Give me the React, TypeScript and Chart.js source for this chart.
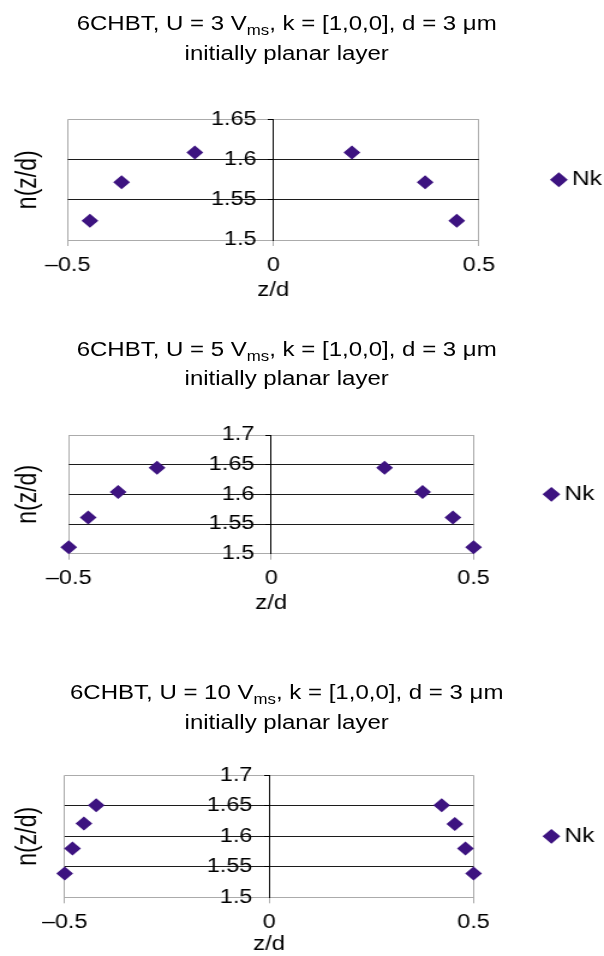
import React, { useEffect, useRef } from 'react';
import { Chart, registerables } from 'chart.js';

Chart.register(...registerables);

// ---------- data ----------
const voltages = ['3', '5', '10'];
const seriesName = 'Nk';

const z1 = [-0.446, -0.369, -0.191, 0.191, 0.369, 0.446];
const n1 = [1.524, 1.572, 1.609, 1.609, 1.572, 1.524];

const z2 = [-0.5, -0.452, -0.378, -0.282, 0.28, 0.374, 0.449, 0.5];
const n2 = [1.511, 1.561, 1.604, 1.645, 1.645, 1.604, 1.561, 1.511];

const z3 = [-0.5, -0.481, -0.453, -0.423, 0.422, 0.454, 0.48, 0.5];
const n3 = [1.539, 1.58, 1.621, 1.651, 1.651, 1.62, 1.58, 1.539];

const xTickLabels = ['\u20130.5', '0', '0.5'];
const yTickLabels1 = ['1.5', '1.55', '1.6', '1.65'];
const yTickLabels23 = ['1.5', '1.55', '1.6', '1.65', '1.7'];
const yRanges = [
  [1.5, 1.65],
  [1.5, 1.7],
  [1.5, 1.7],
];

// ---------- layout (internal, pre-stretch units) ----------
const FONT = '"Liberation Sans", Arial, Helvetica, sans-serif';
const INNER_W = 503;
const STRETCH = 604 / INNER_W;
const PURPLE = '#3d1380';
const FRAME = '#ababab';
const GRID = '#1c1c1c';

type Layout = {
  titleTop: number;
  canvasTop: number;
  canvasH: number;
  padTop: number;
  axisH: number;
  xTitlePadBottom: number;
  yTitlePadTop: number;
  yTitlePadBottom: number;
  legendPad: number;
  legendMaxW: number;
  padRight: number;
};

const layouts: Layout[] = [
  { titleTop: 10, canvasTop: 70, canvasH: 240, padTop: 49.5, axisH: 70, xTitlePadBottom: 8, yTitlePadTop: 9.5, yTitlePadBottom: 19.3, legendPad: 66, legendMaxW: 103, padRight: 1.1 },
  { titleTop: 335.5, canvasTop: 390, canvasH: 234, padTop: 45, axisH: 70.3, xTitlePadBottom: 9, yTitlePadTop: 9.5, yTitlePadBottom: 20.15, legendPad: 64.3, legendMaxW: 101.7, padRight: 6.9 },
  { titleTop: 679, canvasTop: 730, canvasH: 226, padTop: 45.3, axisH: 58.7, xTitlePadBottom: 0, yTitlePadTop: 9.5, yTitlePadBottom: 16.8, legendPad: 64.3, legendMaxW: 101.7, padRight: 6.9 },
];

const zs = [z1, z2, z3];
const ns = [n1, n2, n3];
const yLabelSets = [yTickLabels1, yTickLabels23, yTickLabels23];

function ChartBlock({ idx }: { idx: number }) {
  const ref = useRef<HTMLCanvasElement>(null);
  const L = layouts[idx];
  useEffect(() => {
    const [ymin, ymax] = yRanges[idx];
    const yLabels = yLabelSets[idx];
    const z = zs[idx];
    const n = ns[idx];
    const isEdge = (v: number) => Math.abs(v - ymin) < 1e-6 || Math.abs(v - ymax) < 1e-6;
    const chart = new Chart(ref.current as HTMLCanvasElement, {
      type: 'scatter',
      data: {
        datasets: [
          {
            label: seriesName,
            data: z.map((x, i) => ({ x, y: n[i] })),
            xAxisID: 'x',
            yAxisID: 'y',
            pointStyle: 'rectRot',
            pointRadius: 7,
            pointHoverRadius: 7,
            pointBorderWidth: 0,
            borderWidth: 0,
            backgroundColor: PURPLE,
            borderColor: PURPLE,
            clip: false,
          } as any,
        ],
      },
      options: {
        animation: false,
        responsive: false,
        events: [],
        layout: { padding: { top: L.padTop, left: 0, right: L.padRight, bottom: 0 } },
        plugins: {
          tooltip: { enabled: false },
          title: { display: false },
          legend: {
            display: true,
            position: 'right',
            fullSize: false,
            maxWidth: L.legendMaxW,
            labels: {
              usePointStyle: true,
              pointStyle: 'rectRot',
              boxWidth: 1,
              boxHeight: 10.5,
              padding: L.legendPad,
              color: '#000',
              font: { family: FONT, size: 20.5 },
            },
          } as any,
        },
        scales: {
          x: {
            type: 'linear',
            position: 'bottom',
            min: -0.5,
            max: 0.5,
            afterFit: (s: any) => {
              s.height = L.axisH;
            },
            ticks: {
              stepSize: 0.5,
              autoSkip: false,
              maxRotation: 0,
              padding: 7.5,
              color: '#000',
              font: { family: FONT, size: 19.5 },
              callback: (_v: any, i: number) => xTickLabels[i],
            },
            grid: {
              color: (c: any) => (c.tick && Math.abs(c.tick.value) < 1e-9 ? 'rgba(0,0,0,0)' : FRAME),
              tickColor: FRAME,
              tickLength: 6,
              lineWidth: 1,
            },
            border: { display: true, color: FRAME, width: 1 },
            title: {
              display: true,
              text: 'z/d',
              color: '#000',
              font: { family: FONT, size: 20 },
              padding: { top: 0, bottom: L.xTitlePadBottom },
            },
          },
          y: {
            type: 'linear',
            position: 'center',
            min: ymin,
            max: ymax,
            ticks: {
              stepSize: 0.05,
              autoSkip: false,
              padding: 10,
              color: '#000',
              font: { family: FONT, size: 19.5 },
              callback: (_v: any, i: number) => yLabels[i],
            },
            grid: {
              color: (c: any) => (c.tick && isEdge(c.tick.value) ? FRAME : GRID),
              tickColor: '#000',
              tickLength: 4,
              lineWidth: 1,
            },
            border: { display: true, color: '#000', width: 1 },
          },
          yt: {
            type: 'linear',
            position: 'left',
            min: ymin,
            max: ymax,
            ticks: { display: false },
            grid: { display: false, drawTicks: false, drawOnChartArea: false },
            border: { display: false },
            title: {
              display: true,
              text: 'n(z/d)',
              color: '#000',
              font: { family: FONT, size: 23 },
              padding: { top: L.yTitlePadTop, bottom: L.yTitlePadBottom },
            },
          },
        },
      } as any,
    });
    return () => chart.destroy();
  }, [idx]);

  return (
    <>
      <div
        style={{
          position: 'absolute',
          left: 0,
          top: L.titleTop,
          width: 477.5,
          textAlign: 'center',
          fontFamily: FONT,
          fontSize: 20,
          lineHeight: '27.6px',
          color: '#000',
          whiteSpace: 'nowrap',
        }}
      >
        6CHBT, U = {voltages[idx]} V
        <span style={{ fontSize: 14, position: 'relative', top: 5 }}>ms</span>, k = [1,0,0], d = 3 μm
        <br />
        initially planar layer
      </div>
      <div style={{ position: 'absolute', left: 0, top: L.canvasTop, width: INNER_W, height: L.canvasH }}>
        <canvas ref={ref} width={INNER_W} height={L.canvasH} style={{ display: 'block' }} />
      </div>
    </>
  );
}

export default function App() {
  return (
    <div
      style={{
        position: 'absolute',
        left: 0,
        top: 0,
        width: 604,
        height: 956,
        overflow: 'hidden',
        background: '#fff',
      }}
    >
      <div
        style={{
          position: 'absolute',
          left: 0,
          top: 0,
          width: INNER_W,
          height: 956,
          transform: `scaleX(${STRETCH})`,
          transformOrigin: '0 0',
        }}
      >
        <ChartBlock idx={0} />
        <ChartBlock idx={1} />
        <ChartBlock idx={2} />
      </div>
    </div>
  );
}
